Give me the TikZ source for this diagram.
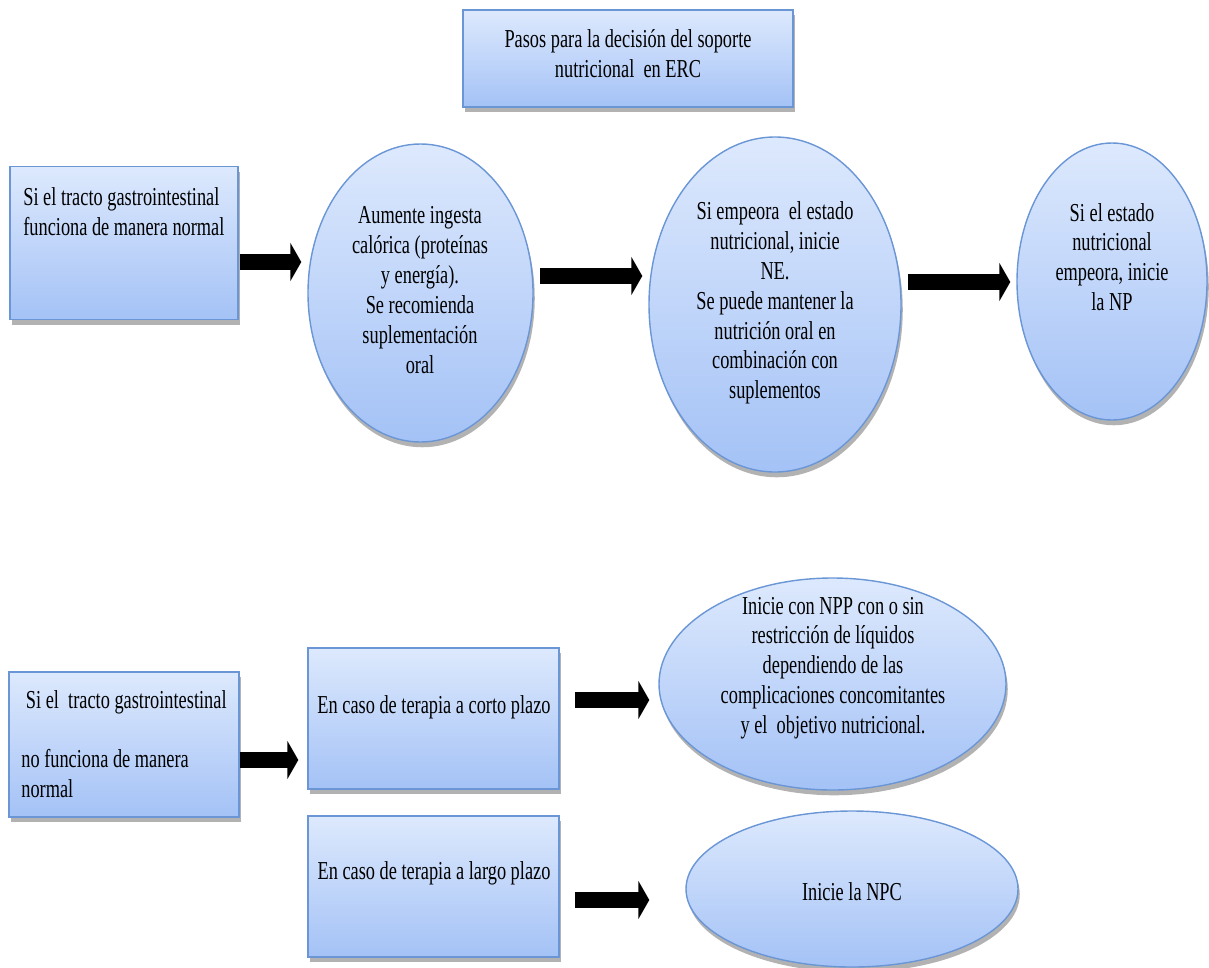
\documentclass[tikz,border=0pt]{standalone}
\usepackage{fontspec}
\setmainfont{Liberation Serif}[FakeStretch=0.71]
\usetikzlibrary{shapes.geometric,arrows.meta,shadows}
\definecolor{topc}{HTML}{DDE9FD}
\definecolor{botc}{HTML}{A4C2F6}
\definecolor{bordc}{HTML}{6A96D6}
\tikzset{
  shapefill/.style={draw=bordc, line width=0.8pt, top color=topc, bottom color=botc,
    drop shadow={shadow xshift=1pt, shadow yshift=-3pt, fill=black, opacity=0.3}},
  rbox/.style={rectangle, shapefill, inner sep=0pt},
  ell/.style={ellipse, shapefill, inner sep=0pt},
  txt/.style={font=\fontsize{14.7pt}{17pt}\selectfont, inner sep=0pt, text=black},
  bigarrow/.style={line width=0.33cm, -{Triangle[length=0.22cm,width=0.76cm]}}
}
\begin{document}
\begin{tikzpicture}[x=0.02cm, y=-0.02cm]
\useasboundingbox (0,0) rectangle (1209,967);
% shapes
\node[rbox, minimum width=330*0.02cm, minimum height=97*0.02cm] (title) at (628,58.5) {};
\node[rbox, minimum width=228*0.02cm, minimum height=153*0.02cm] (b1) at (124,243) {};
\node[ell, minimum width=225*0.02cm, minimum height=298*0.02cm] (e1) at (420.5,293) {};
\node[ell, minimum width=252*0.02cm, minimum height=335*0.02cm] (e2) at (775,304.5) {};
\node[ell, minimum width=190*0.02cm, minimum height=277*0.02cm] (e3) at (1112,281.5) {};
\node[rbox, minimum width=230*0.02cm, minimum height=145*0.02cm] (bA) at (124,744.5) {};
\node[rbox, minimum width=251*0.02cm, minimum height=141*0.02cm] (bB) at (433.5,718.5) {};
\node[rbox, minimum width=251*0.02cm, minimum height=141*0.02cm] (bC) at (433.5,886.5) {};
\node[ell, minimum width=347*0.02cm, minimum height=212*0.02cm] (e4) at (832.5,684) {};
\node[ell, minimum width=332*0.02cm, minimum height=156*0.02cm] (e5) at (852,889) {};
% texts
\node[txt, align=center] (ttitle) at (628,54) {Pasos para la decisión del soporte\\nutricional\ \ en ERC};
\node[txt, align=left, anchor=west] (tb1) at (23,212) {Si el tracto gastrointestinal\\funciona de manera normal};
\node[txt, align=center] (te1) at (420,290) {Aumente ingesta\\calórica (proteínas\\y energía).\\Se recomienda\\suplementación\\oral};
\node[txt, align=center] (te2) at (775,303) {Si empeora\ \ el estado\\nutricional, inicie\\NE.\\Se puede mantener la\\nutrición oral en\\combinación con\\suplementos};
\node[txt, align=center] (te3) at (1112,257) {Si el estado\\nutricional\\empeora, inicie\\la NP};
\node[txt, align=left, anchor=west] (tbA) at (21,744) {\ Si el\ \ tracto gastrointestinal\\\mbox{}\\no funciona de manera\\normal};
\node[txt, align=center] (tbB) at (434,707) {En caso de terapia a corto plazo};
\node[txt, align=center] (te4) at (833,668) {Inicie con NPP con o sin\\restricción de líquidos\\dependiendo de las\\complicaciones concomitantes\\y el\ \ objetivo nutricional.};
\node[txt, align=center] (tbC) at (434,873) {En caso de terapia a largo plazo};
\node[txt, align=center] (te5) at (852,892) {Inicie la NPC};
% arrows
\draw[bigarrow, shorten <=0.02cm, shorten >=0.12cm] (b1.east |- 0,262) -- (e1.west |- 0,262);
\draw[bigarrow, shorten <=0.12cm, shorten >=0.12cm] (e1.east |- 0,276) -- (e2.west |- 0,276);
\draw[bigarrow, shorten <=0.12cm, shorten >=0.12cm] (e2.east |- 0,282) -- (e3.west |- 0,282);
\draw[bigarrow, shorten <=0cm, shorten >=0.18cm] (bA.east |- 0,760) -- (bB.west |- 0,760);
\draw[bigarrow, shorten <=0.30cm, shorten >=0.18cm] (bB.east |- 0,700) -- (e4.west |- 0,700);
\draw[bigarrow, shorten <=0.30cm, shorten >=0.72cm] (bC.east |- 0,900) -- (e5.west |- 0,900);
\end{tikzpicture}
\end{document}
